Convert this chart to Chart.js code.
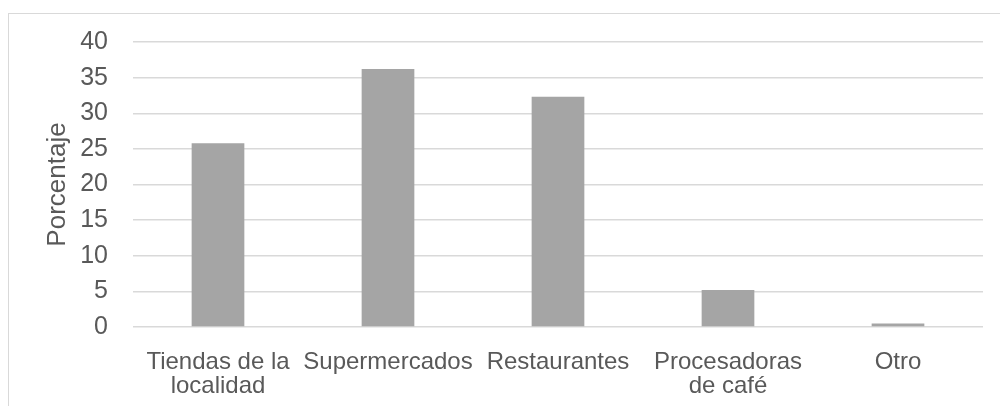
<!DOCTYPE html>
<html>
<head>
<meta charset="utf-8">
<script src="https://cdn.jsdelivr.net/npm/chart.js@4"></script>
<style>
    html, body { margin: 0; padding: 0; background: #fff; overflow: hidden; }
    #wrap { position: relative; width: 1000px; height: 406px; }
    #frame { position: absolute; left: 8px; top: 13px; width: 1010px; height: 420px; border: 1px solid #d9d9d9; box-sizing: border-box; }
    canvas { position: absolute; left: 0; top: 0; }
</style>
</head>
<body>
<div id="wrap">
    <div id="frame"></div>
    <canvas id="chart" width="1000" height="406"></canvas>
</div>
<script>
// destinos de venta, en porcentaje
let categorias = [
    ['Tiendas de la', 'localidad'],
    'Supermercados',
    'Restaurantes',
    ['Procesadoras', 'de café'],
    'Otro'
]
let porcentajes = [25.8, 36.2, 32.3, 5.2, 0.5]
let ticksY = [0, 5, 10, 15, 20, 25, 30, 35, 40]

const textColor = '#595959'
const gridColor = '#d9d9d9'
const family = "'Liberation Sans', Arial, sans-serif"
const font = { family: family, size: 24, lineHeight: 1.0 }

const ctx = document.getElementById('chart').getContext('2d')
const chart = new Chart(ctx, {
    type: 'bar',
    data: {
        labels: categorias,
        datasets: [{
            data: porcentajes,
            backgroundColor: '#a5a5a5',
            borderWidth: 0,
            barPercentage: 0.31,
            categoryPercentage: 1
        }]
    },
    options: {
        responsive: false,
        animation: false,
        layout: { padding: { top: 42, right: 17, left: 0, bottom: 0 } },
        plugins: {
            legend: { display: false },
            tooltip: { enabled: false }
        },
        scales: {
            x: {
                grid: { display: false },
                border: { display: false },
                ticks: {
                    color: textColor,
                    font: font,
                    padding: 15,
                    maxRotation: 0,
                    autoSkip: false
                },
                afterFit: (scale) => { scale.height = 79 }
            },
            y: {
                min: 0,
                max: 40,
                afterBuildTicks: (scale) => {
                    scale.ticks = ticksY.map(v => ({ value: v }))
                },
                grid: { color: gridColor, lineWidth: 1.5, drawTicks: false },
                border: { display: false },
                ticks: {
                    color: textColor,
                    font: { family: family, size: 25 },
                    padding: 25
                },
                title: {
                    display: true,
                    text: 'Porcentaje',
                    color: textColor,
                    font: { family: family, size: 26, lineHeight: 1.0 },
                    padding: { top: 45, bottom: 0 }
                },
                afterFit: (scale) => { scale.width = 133 }
            }
        }
    }
})
</script>
</body>
</html>
